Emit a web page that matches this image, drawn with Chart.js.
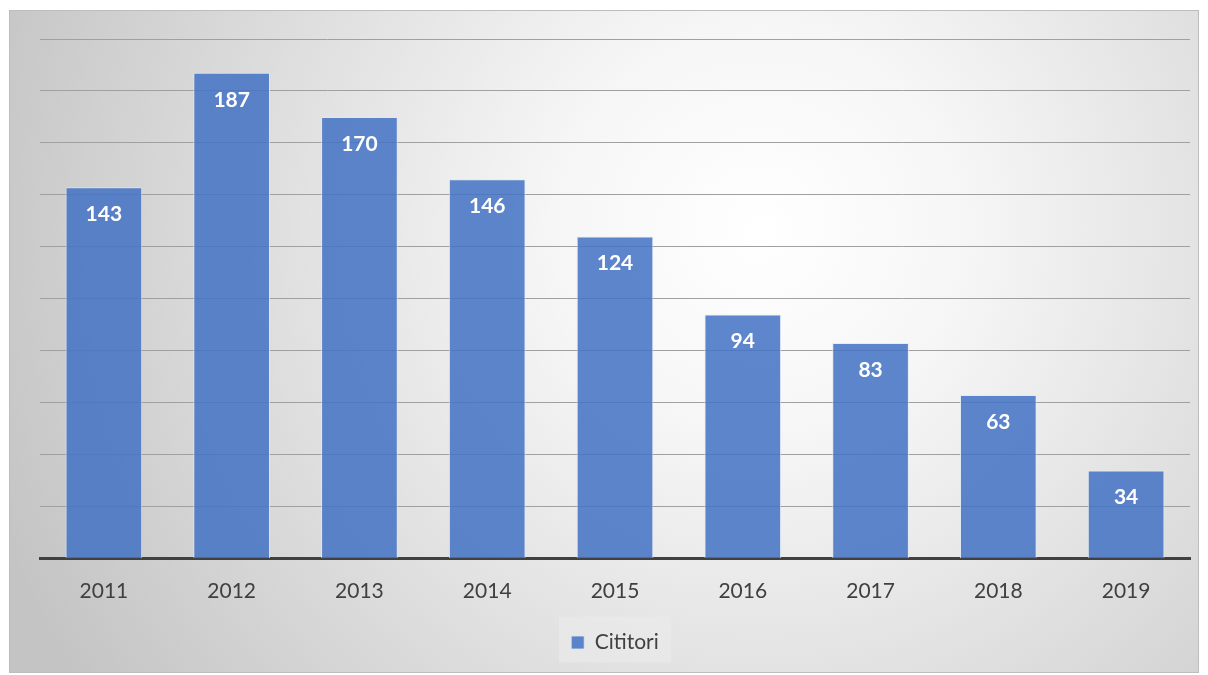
<!DOCTYPE html>
<html>
<head>
<meta charset="utf-8">
<script src="https://cdn.jsdelivr.net/npm/chart.js@4"></script>
<style>
  html, body { margin: 0; padding: 0; background: #fff; }
  #wrap { width: 1208px; height: 675px; }
</style>
</head>
<body>
<div id="wrap"><canvas id="chart" width="1208" height="675"></canvas></div>
<script>
const years = ['2011', '2012', '2013', '2014', '2015', '2016', '2017', '2018', '2019'];
const readers = [143, 187, 170, 146, 124, 94, 83, 63, 34];
const seriesName = 'Cititori';

// gray frame with radial shading behind everything
const backdrop = {
  id: 'backdrop',
  beforeDraw(chart) {
    const ctx = chart.ctx;
    ctx.save();
    const g = ctx.createRadialGradient(760, 230, 0, 760, 230, 820);
    g.addColorStop(0, '#ffffff');
    g.addColorStop(0.25, '#f6f6f6');
    g.addColorStop(1, '#c4c4c4');
    ctx.fillStyle = g;
    ctx.fillRect(9, 10, 1190, 663);
    ctx.strokeStyle = '#bdbdbd';
    ctx.lineWidth = 1;
    ctx.strokeRect(9.5, 10.5, 1189, 662);
    // faint box behind legend
    const lg = chart.legend;
    ctx.fillStyle = 'rgba(235,235,235,0.6)';
    ctx.fillRect(lg.left + (lg.width - 112) / 2, lg.top + lg.height / 2 - 23, 112, 46);
    ctx.restore();
  }
};

// values printed inside the top of each bar
const barLabels = {
  id: 'barLabels',
  afterDatasetsDraw(chart) {
    const ctx = chart.ctx;
    const meta = chart.getDatasetMeta(0);
    ctx.save();
    ctx.font = 'bold 21px Lato, "Open Sans", sans-serif';
    ctx.fillStyle = '#ffffff';
    ctx.textAlign = 'center';
    ctx.textBaseline = 'middle';
    meta.data.forEach((bar, i) => {
      ctx.fillText(readers[i], bar.x, bar.y + 27);
    });
    ctx.restore();
  }
};

new Chart(document.getElementById('chart'), {
  type: 'bar',
  data: {
    labels: years,
    datasets: [{
      label: seriesName,
      data: readers,
      backgroundColor: 'rgba(68,114,196,0.86)',
      borderColor: 'rgba(225,232,245,0.8)',
      borderWidth: 1,
      categoryPercentage: 1,
      barPercentage: 0.6
    }]
  },
  options: {
    responsive: false,
    animation: false,
    layout: { padding: { left: 40, right: 18, top: 39, bottom: 12 } },
    plugins: {
      tooltip: { enabled: false },
      legend: {
        position: 'bottom',
        labels: {
          boxWidth: 13,
          boxHeight: 13,
          padding: 16,
          color: '#404040',
          font: { size: 21, family: 'Lato, "Open Sans", sans-serif' }
        }
      }
    },
    scales: {
      x: {
        grid: { display: false },
        border: { color: '#404040', width: 3 },
        ticks: {
          color: '#404040',
          padding: 12,
          font: { size: 21, family: 'Lato, "Open Sans", sans-serif' }
        }
      },
      y: {
        min: 0,
        max: 200,
        ticks: { stepSize: 20, display: false },
        grid: { color: '#a0a0a0', lineWidth: 1, drawTicks: false },
        border: { display: false }
      }
    }
  },
  plugins: [backdrop, barLabels]
});
</script>
</body>
</html>
